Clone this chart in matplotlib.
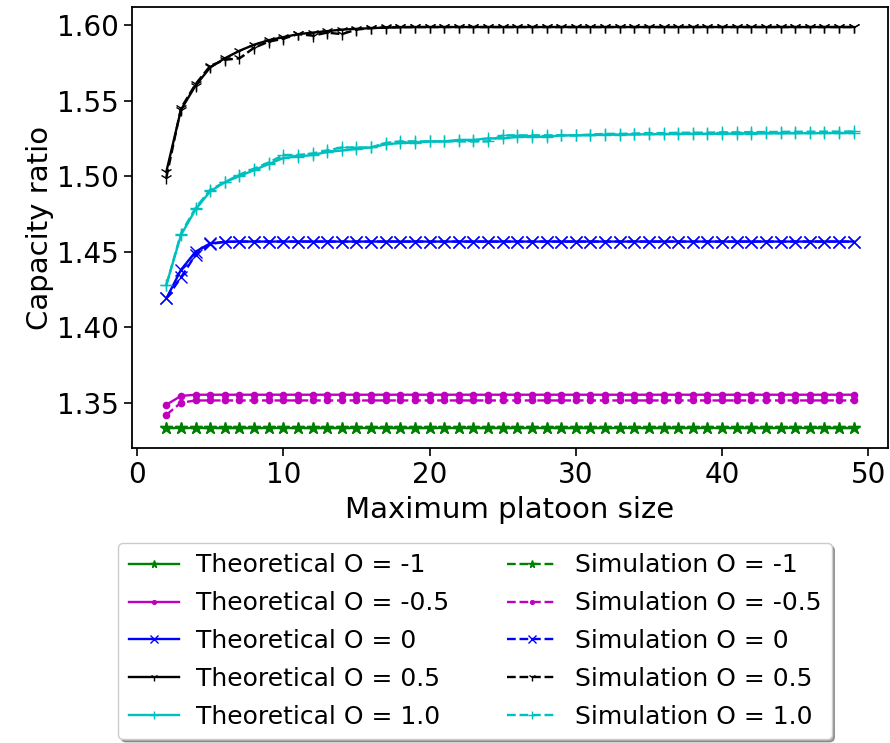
import numpy as np
import matplotlib
matplotlib.use('Agg')
import matplotlib.pyplot as plt

# maximum platoon size
platoon = list(range(2, 50))

# capacity ratios, x = 2..49
theo_m1 = [1.3333, 1.3333, 1.3333, 1.3333, 1.3333, 1.3333, 1.3333, 1.3333, 1.3333, 1.3333, 1.3333, 1.3333,
           1.3333, 1.3333, 1.3333, 1.3333, 1.3333, 1.3333, 1.3333, 1.3333, 1.3333, 1.3333, 1.3333, 1.3333,
           1.3333, 1.3333, 1.3333, 1.3333, 1.3333, 1.3333, 1.3333, 1.3333, 1.3333, 1.3333, 1.3333, 1.3333,
           1.3333, 1.3333, 1.3333, 1.3333, 1.3333, 1.3333, 1.3333, 1.3333, 1.3333, 1.3333, 1.3333, 1.3333]
theo_m05 = [1.3487, 1.3545, 1.3553, 1.3553, 1.3553, 1.3553, 1.3553, 1.3553, 1.3553, 1.3553, 1.3553, 1.3553,
            1.3553, 1.3553, 1.3553, 1.3553, 1.3553, 1.3553, 1.3553, 1.3553, 1.3553, 1.3553, 1.3553, 1.3553,
            1.3553, 1.3553, 1.3553, 1.3553, 1.3553, 1.3553, 1.3553, 1.3553, 1.3553, 1.3553, 1.3553, 1.3553,
            1.3553, 1.3553, 1.3553, 1.3553, 1.3553, 1.3553, 1.3553, 1.3553, 1.3553, 1.3553, 1.3553, 1.3553]
theo_0 = [1.4190, 1.4380, 1.4500, 1.4555, 1.4565, 1.4567, 1.4567, 1.4567, 1.4567, 1.4567, 1.4567, 1.4567,
          1.4567, 1.4567, 1.4567, 1.4567, 1.4567, 1.4567, 1.4567, 1.4567, 1.4567, 1.4567, 1.4567, 1.4567,
          1.4567, 1.4567, 1.4567, 1.4567, 1.4567, 1.4567, 1.4567, 1.4567, 1.4567, 1.4567, 1.4567, 1.4567,
          1.4567, 1.4567, 1.4567, 1.4567, 1.4567, 1.4567, 1.4567, 1.4567, 1.4567, 1.4567, 1.4567, 1.4567]
theo_05 = [1.5030, 1.5440, 1.5600, 1.5720, 1.5780, 1.5830, 1.5870, 1.5900, 1.5920, 1.5940, 1.5950, 1.5960,
           1.5970, 1.5975, 1.5980, 1.5983, 1.5985, 1.5987, 1.5987, 1.5987, 1.5987, 1.5987, 1.5987, 1.5987,
           1.5987, 1.5987, 1.5987, 1.5987, 1.5987, 1.5987, 1.5987, 1.5987, 1.5987, 1.5987, 1.5987, 1.5987,
           1.5987, 1.5987, 1.5987, 1.5987, 1.5987, 1.5987, 1.5987, 1.5987, 1.5987, 1.5987, 1.5987, 1.5987]
theo_1 = [1.4280, 1.4610, 1.4780, 1.4900, 1.4960, 1.5000, 1.5040, 1.5080, 1.5120, 1.5130, 1.5140, 1.5160,
          1.5170, 1.5180, 1.5190, 1.5210, 1.5220, 1.5220, 1.5230, 1.5230, 1.5240, 1.5240, 1.5250, 1.5250,
          1.5260, 1.5260, 1.5260, 1.5270, 1.5270, 1.5272, 1.5274, 1.5275, 1.5276, 1.5277, 1.5278, 1.5279,
          1.5280, 1.5280, 1.5281, 1.5282, 1.5282, 1.5283, 1.5283, 1.5284, 1.5284, 1.5285, 1.5285, 1.5285]

sim_m1 = [1.3333, 1.3333, 1.3333, 1.3333, 1.3333, 1.3333, 1.3333, 1.3333, 1.3333, 1.3333, 1.3333, 1.3333,
          1.3333, 1.3333, 1.3333, 1.3333, 1.3333, 1.3333, 1.3333, 1.3333, 1.3333, 1.3333, 1.3333, 1.3333,
          1.3333, 1.3333, 1.3333, 1.3333, 1.3333, 1.3333, 1.3333, 1.3333, 1.3333, 1.3333, 1.3333, 1.3333,
          1.3333, 1.3333, 1.3333, 1.3333, 1.3333, 1.3333, 1.3333, 1.3333, 1.3333, 1.3333, 1.3333, 1.3333]
sim_m05 = [1.3420, 1.3500, 1.3515, 1.3515, 1.3515, 1.3515, 1.3515, 1.3515, 1.3515, 1.3515, 1.3515, 1.3515,
           1.3515, 1.3515, 1.3515, 1.3515, 1.3515, 1.3515, 1.3515, 1.3515, 1.3515, 1.3515, 1.3515, 1.3515,
           1.3515, 1.3515, 1.3515, 1.3515, 1.3515, 1.3515, 1.3515, 1.3515, 1.3515, 1.3515, 1.3515, 1.3515,
           1.3515, 1.3515, 1.3515, 1.3515, 1.3515, 1.3515, 1.3515, 1.3515, 1.3515, 1.3515, 1.3515, 1.3515]
sim_0 = [1.4190, 1.4330, 1.4480, 1.4550, 1.4565, 1.4567, 1.4567, 1.4567, 1.4567, 1.4567, 1.4567, 1.4567,
         1.4567, 1.4567, 1.4567, 1.4567, 1.4567, 1.4567, 1.4567, 1.4567, 1.4567, 1.4567, 1.4567, 1.4567,
         1.4567, 1.4567, 1.4567, 1.4567, 1.4567, 1.4567, 1.4567, 1.4567, 1.4567, 1.4567, 1.4567, 1.4567,
         1.4567, 1.4567, 1.4567, 1.4567, 1.4567, 1.4567, 1.4567, 1.4567, 1.4567, 1.4567, 1.4567, 1.4567]
sim_05 = [1.4990, 1.5450, 1.5610, 1.5730, 1.5770, 1.5780, 1.5850, 1.5890, 1.5910, 1.5940, 1.5930, 1.5950,
          1.5940, 1.5970, 1.5980, 1.5985, 1.5987, 1.5987, 1.5987, 1.5987, 1.5987, 1.5987, 1.5987, 1.5987,
          1.5987, 1.5987, 1.5987, 1.5987, 1.5987, 1.5987, 1.5987, 1.5987, 1.5987, 1.5987, 1.5987, 1.5987,
          1.5987, 1.5987, 1.5987, 1.5987, 1.5987, 1.5987, 1.5987, 1.5987, 1.5987, 1.5987, 1.5987, 1.5987]
sim_1 = [1.4280, 1.4620, 1.4790, 1.4910, 1.4960, 1.5010, 1.5050, 1.5090, 1.5140, 1.5140, 1.5150, 1.5170,
         1.5190, 1.5190, 1.5190, 1.5220, 1.5230, 1.5230, 1.5230, 1.5230, 1.5230, 1.5230, 1.5230, 1.5270,
         1.5270, 1.5270, 1.5270, 1.5270, 1.5270, 1.5275, 1.5280, 1.5280, 1.5282, 1.5285, 1.5285, 1.5287,
         1.5288, 1.5288, 1.5290, 1.5290, 1.5292, 1.5292, 1.5293, 1.5294, 1.5294, 1.5295, 1.5295, 1.5296]

labels = ['-1', '-0.5', '0', '0.5', '1.0']
colors = ['g', 'm', 'b', 'k', 'c']
markers = ['*', '.', 'x', '1', '+']
theo = [theo_m1, theo_m05, theo_0, theo_05, theo_1]
sim = [sim_m1, sim_m05, sim_0, sim_05, sim_1]

fig = plt.figure(figsize=(8.9, 7.43), dpi=100)
ax = fig.add_axes([132/890, 1-448/743, (888-132)/890, (448-7)/743])

for i in range(5):
    ax.plot(platoon, theo[i], color=colors[i], marker=markers[i], linestyle='-',
            lw=1.7, ms=9, label='Theoretical O = ' + labels[i])
for i in range(5):
    ax.plot(platoon, sim[i], color=colors[i], marker=markers[i], linestyle='--',
            lw=1.7, ms=9, label='Simulation O = ' + labels[i])

ax.set_xticks([0, 10, 20, 30, 40, 50])
ax.set_yticks([1.35, 1.40, 1.45, 1.50, 1.55, 1.60])
ax.tick_params(labelsize=20, length=6, width=1.2)
ax.set_xlabel('Maximum platoon size', fontsize=21, labelpad=5)
ax.set_ylabel('Capacity ratio', fontsize=21, labelpad=2)
for s in ax.spines.values():
    s.set_linewidth(1.3)

fig.legend(loc='upper center', bbox_to_anchor=(475/890, 1-543/743), ncol=2,
           fontsize=18, shadow=True, handlelength=2.0, handletextpad=0.7,
           columnspacing=2.3, labelspacing=0.55, markerscale=0.6, borderpad=0.42,
           borderaxespad=0)

fig.savefig('out.png', dpi=100)
